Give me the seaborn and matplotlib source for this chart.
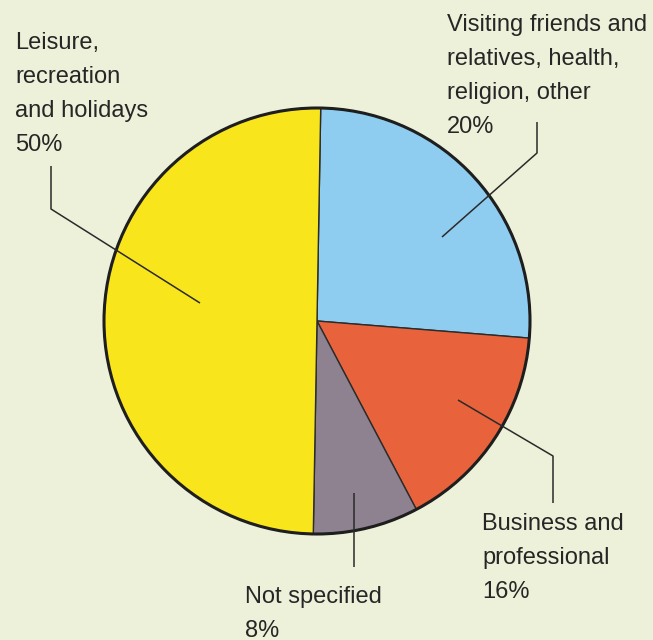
import matplotlib
matplotlib.use("Agg")
import matplotlib.pyplot as plt
import seaborn as sns
from matplotlib import font_manager

# ---- data ----
categories = ["Visiting friends and\nrelatives, health,\nreligion, other",
              "Business and\nprofessional",
              "Not specified",
              "Leisure,\nrecreation\nand holidays"]
labelled_pct = [20, 16, 8, 50]          # percentages printed in the labels
drawn_share = [26, 16, 8, 50]           # slice sizes as drawn in the picture
slice_colors = ["#8fcdf0", "#e8623b", "#8e8290", "#f8e51c"]

sns.set_theme(style="white")
names = {f.name for f in font_manager.fontManager.ttflist}
fam = ["Liberation Sans Narrow", "DejaVu Sans"] if "Liberation Sans Narrow" in names else ["Liberation Sans", "DejaVu Sans"]
plt.rcParams["font.family"] = fam

W, H = 653, 640
BG = "#eef1d9"
fig = plt.figure(figsize=(W / 100, H / 100), dpi=100, facecolor=BG)
ax = fig.add_axes([0, 0, 1, 1])
ax.set_facecolor(BG)

CX, CY, R = 317, 321, 213
def px(x, y):
    return ((x - CX) / R, (CY - y) / R)

palette = sns.color_palette(slice_colors)
ax.pie(drawn_share, colors=palette, startangle=89, counterclock=False,
       radius=1, center=(0, 0),
       wedgeprops=dict(edgecolor="#2b2b2b", linewidth=1.0))
ax.add_patch(plt.Circle((0, 0), 1, fill=False, ec="#1e1e1e", lw=2.2, zorder=5))

ax.set_xlim(px(0, 0)[0], px(W, 0)[0])
ax.set_ylim(px(0, H)[1], px(0, 0)[1])
ax.set_aspect("equal")
ax.axis("off")

# labels
txt_kw = dict(fontsize=17, color="#262626", ha="left", va="top", linespacing=1.71, zorder=6)
label_pos = [(447, 14), (482, 513), (245, 586), (15, 32)]
for name, pct, (x, y) in zip(categories, labelled_pct, label_pos):
    ax.text(*px(x, y), f"{name}\n{pct}%", **txt_kw)

# leader lines
leaders = [
    [(537, 122), (537, 153), (442, 237)],
    [(458, 400), (553, 456), (553, 503)],
    [(354, 493), (354, 567)],
    [(51, 166), (51, 209), (200, 303)],
]
for pts in leaders:
    xs, ys = zip(*[px(a, b) for a, b in pts])
    ax.plot(xs, ys, color="#2a2a2a", lw=1.1, zorder=7, solid_capstyle="butt")

fig.savefig("out.png", dpi=100, facecolor=BG)
